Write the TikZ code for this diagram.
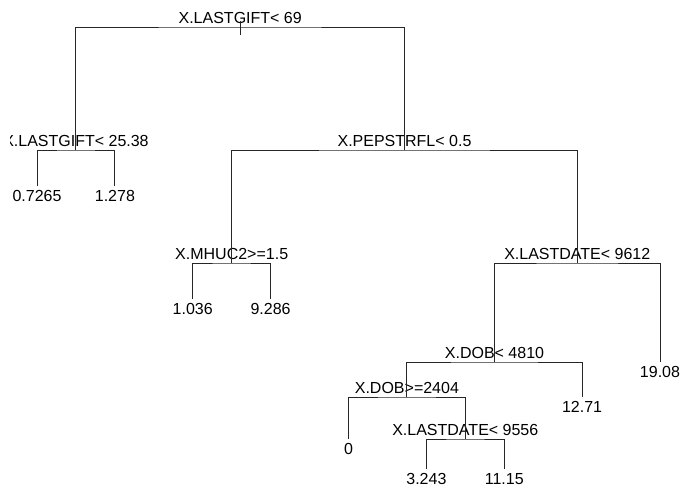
\documentclass[tikz,border=0pt]{standalone}
\usepackage{fontspec}
\setmainfont{Liberation Sans}
\begin{document}
\begin{tikzpicture}[
    x=0.75pt, y=-0.75pt,
    split/.style={anchor=base, inner sep=0pt, yshift=2.5pt, font=\fontsize{12pt}{14pt}\selectfont},
    leaf/.style={anchor=base, inner sep=0pt, yshift=-11.8pt, font=\fontsize{12pt}{14pt}\selectfont},
    branch/.style={line width=0.75pt, color=black!85}
  ]
  \useasboundingbox (0,0) rectangle (694,487);
  \clip (10,0) rectangle (694,487);
  % split points
  \coordinate (root) at (240.2,27);
  \coordinate (gift) at (75.95,150);
  \coordinate (pep) at (404.5,150);
  \coordinate (mhuc) at (231.7,263);
  \coordinate (dateA) at (577.25,263);
  \coordinate (dobA) at (494.5,362);
  \coordinate (dobB) at (406.9,397);
  \coordinate (dateB) at (465.3,439);
  % leaves
  \coordinate (f1) at (37,186);
  \coordinate (f2) at (114.9,186);
  \coordinate (f3) at (192.75,299);
  \coordinate (f4) at (270.6,299);
  \coordinate (f5) at (348.5,439);
  \coordinate (f6) at (426.4,468.5);
  \coordinate (f7) at (504.25,468.5);
  \coordinate (f8) at (582.1,397);
  \coordinate (f9) at (660,362);
  \coordinate (stubtop) at (240.2,21);
  \coordinate (stubbot) at (240.2,35);

  \node[split] (rootlab) at (root) {X.LASTGIFT< 69};
  \node[split] (giftlab) at (gift) {X.LASTGIFT< 25.38};
  \node[split] (peplab) at (pep) {X.PEPSTRFL< 0.5};
  \node[split] (mhuclab) at (mhuc) {X.MHUC2>=1.5};
  \node[split] (dateAlab) at (dateA) {X.LASTDATE< 9612};
  \node[split] (dobAlab) at (dobA) {X.DOB< 4810};
  \node[split] (dobBlab) at (dobB) {X.DOB>=2404};
  \node[split] (dateBlab) at (dateB) {X.LASTDATE< 9556};

  \node[leaf] (v1) at (f1) {0.7265};
  \node[leaf] (v2) at (f2) {1.278};
  \node[leaf] (v3) at (f3) {1.036};
  \node[leaf] (v4) at (f4) {9.286};
  \node[leaf] (v5) at (f5) {0};
  \node[leaf] (v6) at (f6) {3.243};
  \node[leaf] (v7) at (f7) {11.15};
  \node[leaf] (v8) at (f8) {12.71};
  \node[leaf] (v9) at (f9) {19.08};

  \draw[branch] (stubtop) -- (stubbot);
  \draw[branch] (gift) |- (root) -| (pep);
  \draw[branch] (f1) |- (gift) -| (f2);
  \draw[branch] (mhuc) |- (pep) -| (dateA);
  \draw[branch] (f3) |- (mhuc) -| (f4);
  \draw[branch] (dobA) |- (dateA) -| (f9);
  \draw[branch] (dobB) |- (dobA) -| (f8);
  \draw[branch] (f5) |- (dobB) -| (dateB);
  \draw[branch] (f6) |- (dateB) -| (f7);
\end{tikzpicture}
\end{document}
